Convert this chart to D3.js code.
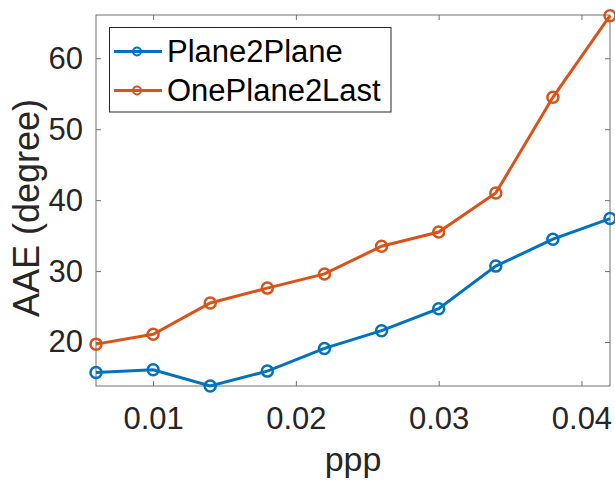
<!DOCTYPE html>
<meta charset="utf-8">
<style>
    body
    {
        margin:0;
        background:white;
    }
    text
    {
        font-family:"Liberation Sans", Arial, sans-serif;
        fill:#262626;
    }
</style>
<script type="text/javascript" src="https://d3js.org/d3.v7.min.js"></script>
<body>
<svg id="chart"></svg>
<script>
    // values
    var ppp = [0.006, 0.010, 0.014, 0.018, 0.022, 0.026, 0.030, 0.034, 0.038, 0.042];
    var plane2plane = [15.7, 16.1, 13.8, 15.9, 19.1, 21.6, 24.7, 30.7, 34.5, 37.4];
    var onePlane2Last = [19.7, 21.1, 25.5, 27.6, 29.6, 33.5, 35.5, 41.0, 54.5, 66.0];
    var seriesNames = ["Plane2Plane", "OnePlane2Last"];
    var seriesColors = ["#0072BD", "#D95319"];
    var xTicks = [0.01, 0.02, 0.03, 0.04];
    var yTicks = [20, 30, 40, 50, 60];

    var screen = {width:615, height:483};
    var plot = {left:96, right:610, top:15, bottom:386};

    var svg = d3.select("#chart")
        .attr("width", screen.width)
        .attr("height", screen.height);

    var xScale = d3.scaleLinear()
        .domain([0.006, 0.042])
        .range([plot.left, plot.right]);
    var yScale = d3.scaleLinear()
        .domain([13.8, 66.1])
        .range([plot.bottom, plot.top]);

    var axisColor = "#707070";

    var styleAxis = function(g)
    {
        g.select(".domain").remove();
        g.selectAll("line").attr("stroke", axisColor);
        g.selectAll("text")
            .style("font-size", "31px")
            .attr("fill", "#262626");
    }

    svg.append("g")
        .attr("transform", "translate(0," + plot.bottom + ")")
        .call(d3.axisBottom(xScale).tickValues(xTicks).tickSize(-5).tickPadding(21)
            .tickFormat(function(d){ return d; }))
        .call(styleAxis);

    svg.append("g")
        .attr("transform", "translate(0," + plot.top + ")")
        .call(d3.axisTop(xScale).tickValues(xTicks).tickSize(-5).tickFormat(""))
        .call(styleAxis);

    svg.append("g")
        .attr("transform", "translate(" + plot.left + ",0)")
        .call(d3.axisLeft(yScale).tickValues(yTicks).tickSize(-5).tickPadding(13))
        .call(styleAxis);

    svg.append("g")
        .attr("transform", "translate(" + plot.right + ",0)")
        .call(d3.axisRight(yScale).tickValues(yTicks).tickSize(-5).tickFormat(""))
        .call(styleAxis);

    // box
    svg.append("rect")
        .attr("x", plot.left)
        .attr("y", plot.top)
        .attr("width", plot.right - plot.left)
        .attr("height", plot.bottom - plot.top)
        .attr("fill", "none")
        .attr("stroke", axisColor)
        .attr("stroke-width", 1);

    var allSeries = [plane2plane, onePlane2Last];
    var line = d3.line()
        .x(function(d, i){ return xScale(ppp[i]); })
        .y(function(d){ return yScale(d); });

    allSeries.forEach(function(values, s)
    {
        svg.append("path")
            .datum(values)
            .attr("d", line)
            .attr("fill", "none")
            .attr("stroke", seriesColors[s])
            .attr("stroke-width", 3);
        svg.selectAll(".m" + s)
            .data(values)
            .enter()
            .append("circle")
            .attr("class", "m" + s)
            .attr("cx", function(d, i){ return xScale(ppp[i]); })
            .attr("cy", yScale)
            .attr("r", 5.5)
            .attr("fill", "none")
            .attr("stroke", seriesColors[s])
            .attr("stroke-width", 2.5);
    });

    // axis labels
    svg.append("text")
        .attr("x", (plot.left + plot.right) / 2)
        .attr("y", 471)
        .attr("text-anchor", "middle")
        .style("font-size", "34px")
        .text("ppp");
    svg.append("text")
        .attr("transform", "translate(38.5,208) rotate(-90)")
        .attr("text-anchor", "middle")
        .style("font-size", "36px")
        .text("AAE (degree)");

    // legend
    var legend = svg.append("g");
    legend.append("rect")
        .attr("x", 109.5)
        .attr("y", 27.5)
        .attr("width", 281.5)
        .attr("height", 84.5)
        .attr("fill", "white")
        .attr("stroke", "#262626")
        .attr("stroke-width", 1);
    seriesNames.forEach(function(name, s)
    {
        var cy = 51.5 + s * 39;
        legend.append("line")
            .attr("x1", 114).attr("x2", 162)
            .attr("y1", cy).attr("y2", cy)
            .attr("stroke", seriesColors[s])
            .attr("stroke-width", 3);
        legend.append("circle")
            .attr("cx", 137).attr("cy", cy)
            .attr("r", 4)
            .attr("fill", "none")
            .attr("stroke", seriesColors[s])
            .attr("stroke-width", 2);
        legend.append("text")
            .attr("x", 167)
            .attr("y", cy)
            .attr("dy", "0.34em")
            .style("font-size", "31px")
            .style("fill", "#000")
            .text(name);
    });
</script>
</body>
